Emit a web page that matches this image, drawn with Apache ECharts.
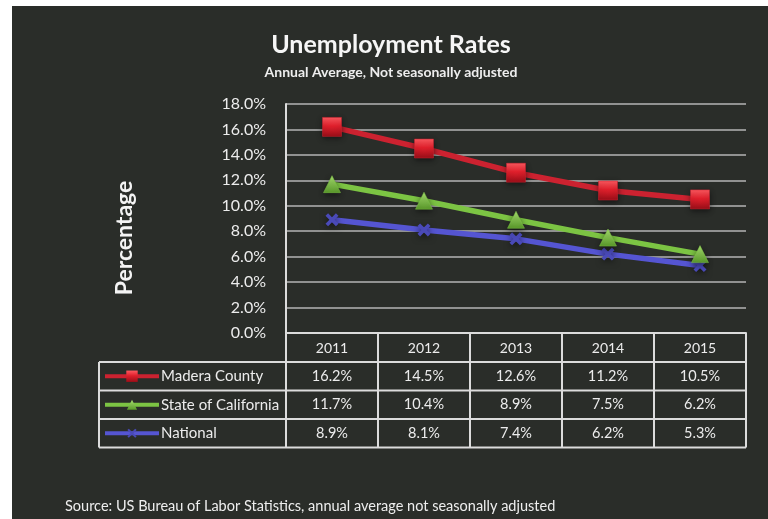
<!DOCTYPE html>
<html>
<head>
<meta charset="utf-8">
<script src="https://cdn.jsdelivr.net/npm/echarts@6/dist/echarts.min.js"></script>
<style>
  html, body { margin: 0; padding: 0; background: #ffffff; }
  #chart { width: 768px; height: 519px; }
</style>
</head>
<body>
<div id="chart"></div>
<script>
// Annual average unemployment rates (%), not seasonally adjusted
const years = ['2011', '2012', '2013', '2014', '2015'];
const maderaCounty = [16.2, 14.5, 12.6, 11.2, 10.5];
const stateOfCalifornia = [11.7, 10.4, 8.9, 7.5, 6.2];
const national = [8.9, 8.1, 7.4, 6.2, 5.3];
const seriesNames = ['Madera County', 'State of California', 'National'];
const yTicks = { min: 0, max: 18, interval: 2 };

const FONT = 'Lato, "Open Sans", sans-serif';
const TXT = '#ececec';
const BORDER = '#dcdcdc';

const xMark = 'path://M2,0 L5,3 L8,0 L10,2 L7,5 L10,8 L8,10 L5,7 L2,10 L0,8 L3,5 L0,2 Z';

const styles = [
  { color: '#cc2230', symbol: 'rect', size: 19,
    fill: new echarts.graphic.LinearGradient(0, 0, 0, 1, [
      { offset: 0, color: '#ff5a60' }, { offset: 0.45, color: '#e0202c' }, { offset: 1, color: '#9a0e18' }]) },
  { color: '#7cc443', symbol: 'triangle', size: 17,
    fill: new echarts.graphic.LinearGradient(0, 0, 0, 1, [
      { offset: 0, color: '#a8e070' }, { offset: 1, color: '#5a9a2a' }]) },
  { color: '#5555d2', symbol: xMark, size: 13, fill: '#4a4ab8' }
];
const seriesData = [maderaCounty, stateOfCalifornia, national];

const chart = echarts.init(document.getElementById('chart'), null, { renderer: 'canvas' });

const option = {
  backgroundColor: 'transparent',
  animation: false,
  grid: { left: 286, right: 22, top: 104, bottom: 186, containLabel: false },
  xAxis: {
    type: 'category',
    data: years,
    boundaryGap: true,
    axisLine: { show: true, lineStyle: { color: BORDER, width: 2 } },
    axisTick: { show: false },
    axisLabel: { color: TXT, fontFamily: FONT, fontSize: 14, margin: 8 }
  },
  yAxis: {
    type: 'value',
    min: yTicks.min, max: yTicks.max, interval: yTicks.interval,
    axisLine: { show: true, lineStyle: { color: BORDER, width: 2 } },
    axisTick: { show: false },
    axisLabel: {
      color: TXT, fontFamily: FONT, fontSize: 16, margin: 20,
      formatter: v => v.toFixed(1) + '%'
    },
    splitLine: { show: true, lineStyle: { color: '#b4b4b4', width: 1.5 } }
  },
  series: seriesData.map((d, i) => ({
    name: seriesNames[i],
    type: 'line',
    data: d,
    symbol: styles[i].symbol,
    symbolSize: styles[i].size,
    lineStyle: { color: styles[i].color, width: 5.5 },
    itemStyle: { color: styles[i].fill, borderColor: styles[i].color, borderWidth: i === 2 ? 0 : 0.5,
      shadowColor: 'rgba(0,0,0,0.5)', shadowBlur: 6, shadowOffsetY: 2 },
    z: 3 - i
  }))
};
chart.setOption(option);

// Data table below the plot, aligned to the category axis
function buildTable() {
  const xs = years.map((_, i) => chart.convertToPixel({ xAxisIndex: 0 }, i));
  const colW = xs[1] - xs[0];
  const plotLeft = xs[0] - colW / 2;
  const plotRight = xs[xs.length - 1] + colW / 2;
  const y0 = chart.convertToPixel({ yAxisIndex: 0 }, 0);
  const yTop = chart.convertToPixel({ yAxisIndex: 0 }, yTicks.max);
  const headerH = 29;
  const rowH = 28.5;
  const legendLeft = 99;
  const rowsTop = y0 + headerH;
  const tableBottom = rowsTop + rowH * seriesData.length;
  const g = [];

  // dark backdrop
  g.push({ type: 'rect', shape: { x: 12, y: 6, width: 756, height: 513 },
    style: { fill: '#2a2d29' }, z: -10, silent: true });

  const line = (x1, y1, x2, y2) => g.push({ type: 'line', shape: { x1, y1, x2, y2 },
    style: { stroke: BORDER, lineWidth: 2 }, z: 5, silent: true });

  // header verticals
  for (let i = 0; i <= years.length; i++) {
    const x = plotLeft + colW * i;
    line(x, i === 0 ? yTop : y0, x, tableBottom);
  }
  line(legendLeft, rowsTop, legendLeft, tableBottom);
  for (let r = 0; r <= seriesData.length; r++) {
    const y = rowsTop + rowH * r;
    line(legendLeft, y, plotRight, y);
  }

  // cells
  seriesData.forEach((d, r) => {
    const cy = rowsTop + rowH * r + rowH / 2;
    d.forEach((v, i) => {
      g.push({ type: 'text', x: xs[i], y: cy, z: 6, silent: true,
        style: { text: v.toFixed(1) + '%', fill: TXT, font: '14.5px ' + FONT,
          align: 'center', verticalAlign: 'middle' } });
    });
    // legend key
    const s = styles[r];
    g.push({ type: 'line', shape: { x1: legendLeft + 6, y1: cy, x2: legendLeft + 60, y2: cy },
      style: { stroke: s.color, lineWidth: 4 }, z: 6, silent: true });
    const ms = s.size * 0.6;
    const kx = legendLeft + 33;
    if (r === 0) {
      g.push({ type: 'rect', shape: { x: kx - ms / 2, y: cy - ms / 2, width: ms, height: ms },
        style: { fill: s.fill }, z: 7, silent: true });
    } else if (r === 1) {
      g.push({ type: 'polygon', shape: { points: [[kx, cy - ms / 2], [kx + ms / 2, cy + ms / 2], [kx - ms / 2, cy + ms / 2]] },
        style: { fill: s.fill }, z: 7, silent: true });
    } else {
      const h = ms / 2;
      g.push({ type: 'polyline', shape: { points: [[kx - h, cy - h], [kx + h, cy + h]] },
        style: { stroke: s.fill, lineWidth: 2 }, z: 7, silent: true });
      g.push({ type: 'polyline', shape: { points: [[kx + h, cy - h], [kx - h, cy + h]] },
        style: { stroke: s.fill, lineWidth: 2 }, z: 7, silent: true });
    }
    g.push({ type: 'text', x: legendLeft + 62, y: cy, z: 6, silent: true,
      style: { text: seriesNames[r], fill: TXT, font: '15px ' + FONT, align: 'left', verticalAlign: 'middle' } });
  });

  // axis title
  g.push({ type: 'text', x: 125, y: 238, rotation: Math.PI / 2, z: 6, silent: true,
    style: { text: 'Percentage', fill: '#f4f4f4', font: 'bold 23px ' + FONT, align: 'center', verticalAlign: 'middle' } });

  // titles and source
  g.push({ type: 'text', x: 391, y: 45, z: 6, silent: true,
    style: { text: 'Unemployment Rates', fill: '#f6f6f6', font: 'bold 25px ' + FONT, align: 'center', verticalAlign: 'middle' } });
  g.push({ type: 'text', x: 391, y: 72, z: 6, silent: true,
    style: { text: 'Annual Average, Not seasonally adjusted', fill: '#eeeeee', font: 'bold 14px ' + FONT, align: 'center', verticalAlign: 'middle' } });
  g.push({ type: 'text', x: 65, y: 506, z: 6, silent: true,
    style: { text: 'Source: US Bureau of Labor Statistics, annual average not seasonally adjusted', fill: '#eeeeee', font: '14.5px ' + FONT, align: 'left', verticalAlign: 'middle' } });

  chart.setOption({ graphic: { elements: g } });
}
buildTable();
</script>
</body>
</html>
